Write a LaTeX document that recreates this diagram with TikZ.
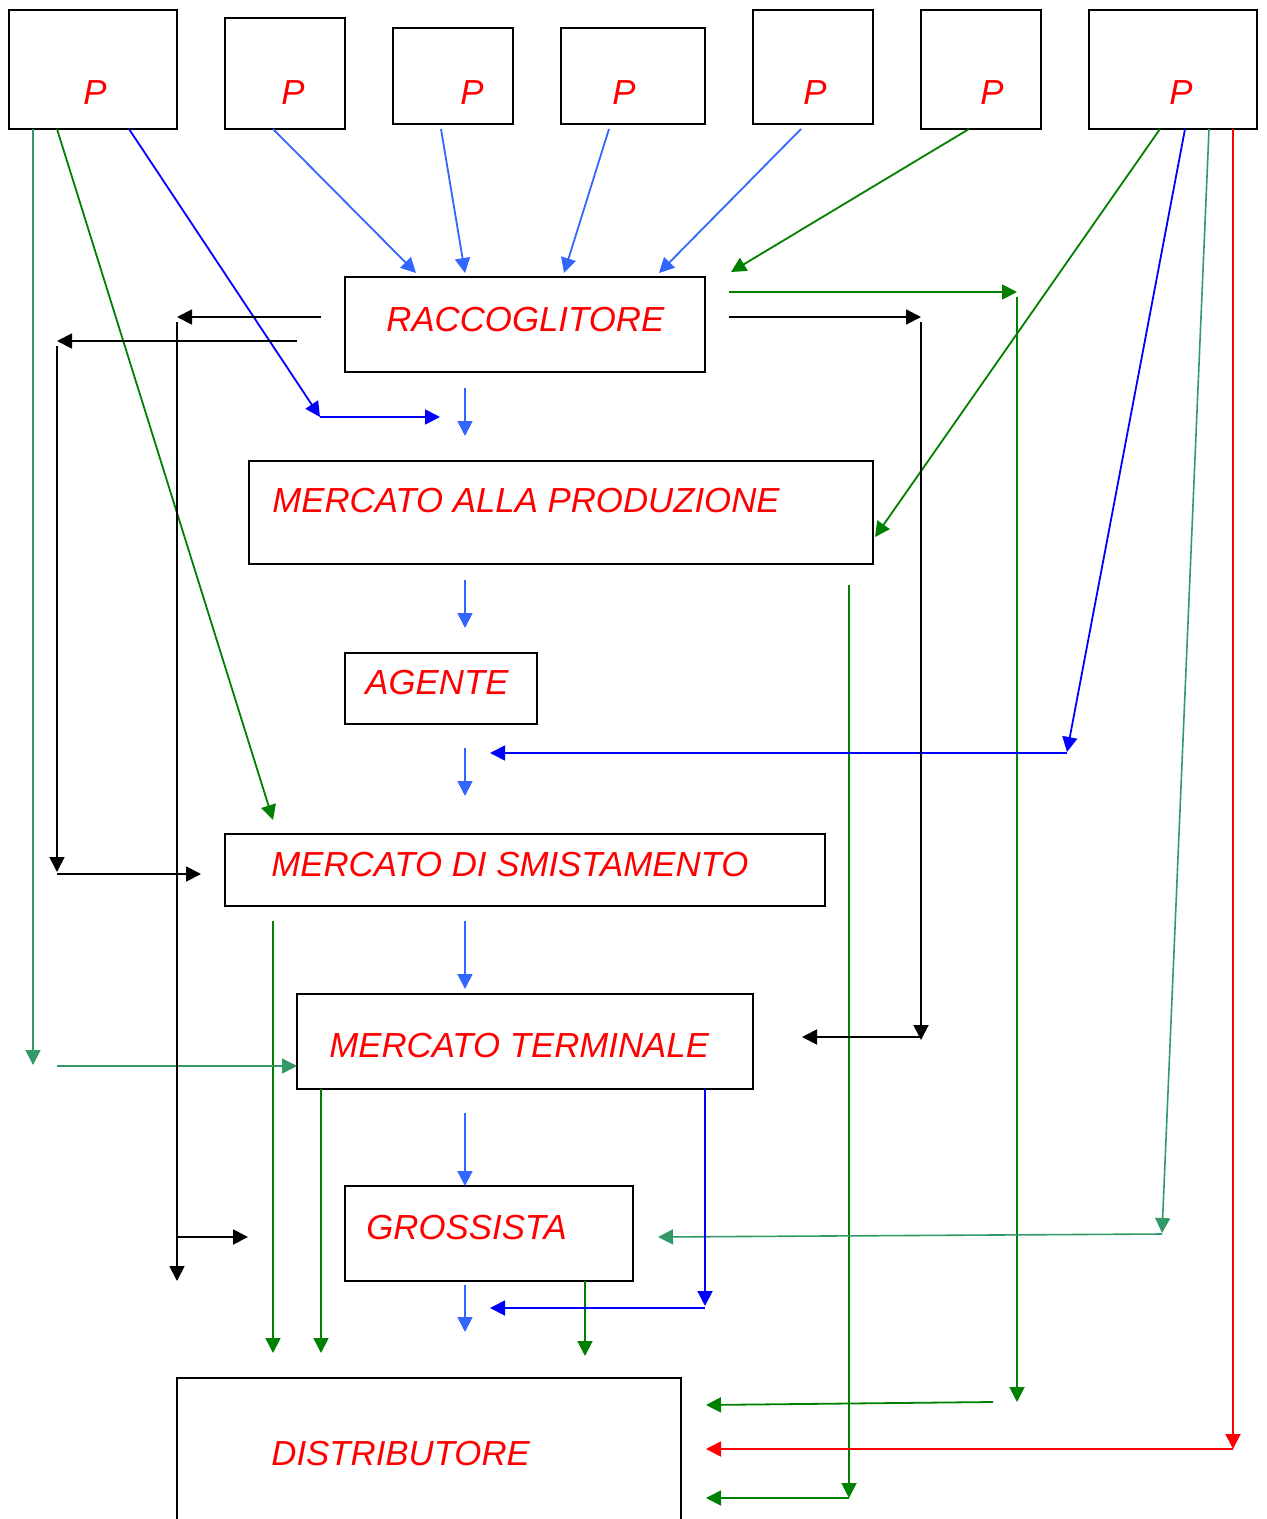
\documentclass[tikz,border=0pt]{standalone}
\usepackage{fontspec}
\setmainfont{Liberation Sans}
\usetikzlibrary{arrows.meta}
\definecolor{lblue}{RGB}{51,102,255}
\definecolor{dblue}{RGB}{0,0,255}
\definecolor{dgreen}{RGB}{0,128,0}
\definecolor{sgreen}{RGB}{51,153,102}
\definecolor{tred}{RGB}{255,0,0}
\begin{document}
\begin{tikzpicture}[x=0.5pt,y=-0.5pt,
  box/.style={draw=black, line width=1pt, inner sep=0pt},
  lbl/.style={anchor=base west, inner sep=0pt, text=tred, font=\fontsize{17.4}{20}\selectfont\itshape},
  conn/.style={line width=0.9pt, -{Triangle[length=7.5pt,width=7.5pt]}},
  bl/.style={conn, lblue},
  db/.style={conn, dblue},
  dg/.style={conn, dgreen},
  sg/.style={conn, sgreen, line width=0.8pt},
  rd/.style={conn, tred},
  bk/.style={conn, black},
]
\useasboundingbox (0,0) rectangle (1266,1519);

% producer boxes
\node[box, minimum width=84pt, minimum height=59.5pt] (p1) at (93,69.5) {};
\node[box, minimum width=60pt, minimum height=55.5pt] (p2) at (285,73.5) {};
\node[box, minimum width=60pt, minimum height=48pt]   (p3) at (453,76) {};
\node[box, minimum width=72pt, minimum height=48pt]   (p4) at (633,76) {};
\node[box, minimum width=60pt, minimum height=57pt]   (p5) at (813,67) {};
\node[box, minimum width=60pt, minimum height=59.5pt] (p6) at (981,69.5) {};
\node[box, minimum width=84pt, minimum height=59.5pt] (p7) at (1173,69.5) {};
\node[lbl] (t1) at (83,105) {P};
\node[lbl] (t2) at (281,105) {P};
\node[lbl] (t3) at (460,105) {P};
\node[lbl] (t4) at (612,105) {P};
\node[lbl] (t5) at (803,105) {P};
\node[lbl] (t6) at (980,105) {P};
\node[lbl] (t7) at (1169,105) {P};

% chain boxes
\node[box, minimum width=180pt, minimum height=47.5pt] (racc) at (525,324.5) {};
\node[box, minimum width=312pt, minimum height=51.5pt] (map) at (561,512.5) {};
\node[box, minimum width=96pt, minimum height=35.5pt] (ag) at (441,688.5) {};
\node[box, minimum width=300pt, minimum height=36pt] (mds) at (525,870) {};
\node[box, minimum width=228pt, minimum height=47.5pt] (mt) at (525,1041.5) {};
\node[box, minimum width=144pt, minimum height=47.5pt] (gr) at (489,1233.5) {};
\node[inner sep=0pt, minimum width=252pt, minimum height=82pt] (dist) at (429,1460) {};
\draw[line width=1pt] (dist.south west) -- (dist.north west) -- (dist.north east) -- (dist.south east);

\node[lbl] (traccl) at (386,332) {RACCOGLITORE};
\node[lbl] (tmap) at (272,512) {MERCATO ALLA PRODUZIONE};
\node[lbl] (tag) at (365,694) {AGENTE};
\node[lbl] (tmds) at (271,876) {MERCATO DI SMISTAMENTO};
\node[lbl] (tmt) at (329,1057) {MERCATO TERMINALE};
\node[lbl] (tgr) at (366,1239) {GROSSISTA};
\node[lbl] (tdist) at (271,1465) {DISTRIBUTORE};

% light blue: producers to raccoglitore
\draw[bl] (273,129) -- (416,273);
\draw[bl] (441,129) -- (465,273);
\draw[bl] (609,129) -- (564,273);
\draw[bl] (801,129) -- (659,273);
% central light blue arrows
\draw[bl] (465,388) -- (465,436);
\draw[bl] (465,580) -- (465,628);
\draw[bl] (465,748) -- (465,796);
\draw[bl] (465,921) -- (465,989);
\draw[bl] (465,1113) -- (465,1186);
\draw[bl] (465,1285) -- (465,1332);

% dark green
\draw[dg] (57,129) -- (273,820);
\draw[dg] (969,129) -- (731,272);
\draw[dg] (1160,129) -- (875,537);
\draw[dg] (729,292) -- (1017,292);
\draw[dg] (1017,297) -- (1017,1402);
\draw[dg] (993,1402) -- (706,1405);
\draw[dg] (849,585) -- (849,1498);
\draw[dg] (849,1498) -- (706,1498);
\draw[dg] (273,921) -- (273,1353);
\draw[dg] (321,1089) -- (321,1353);
\draw[dg] (585,1281) -- (585,1356);

% sea green
\draw[sg] (33,129) -- (33,1065);
\draw[sg] (57,1066) -- (297,1066);
\draw[sg] (1209,129) -- (1162,1233);
\draw[sg] (1162,1234) -- (658,1237);

% dark blue
\draw[db] (129,129) -- (320,417);
\draw[db] (320,417) -- (440,417);
\draw[db] (1185,129) -- (1067,752);
\draw[db] (1067,753) -- (490,753);
\draw[db] (705,1089) -- (705,1306);
\draw[db] (705,1308) -- (490,1308);

% red
\draw[rd] (1233,129) -- (1233,1449);
\draw[rd] (1233,1449) -- (706,1449);

% black
\draw[bk] (321,317) -- (177,317);
\draw[bk] (177,322) -- (177,1281);
\draw[bk] (177,1237) -- (248,1237);
\draw[bk] (297,341) -- (57,341);
\draw[bk] (57,346) -- (57,872);
\draw[bk] (57,874) -- (201,874);
\draw[bk] (729,317) -- (921,317);
\draw[bk] (921,322) -- (921,1040);
\draw[bk] (921,1037) -- (802,1037);
\end{tikzpicture}
\end{document}
